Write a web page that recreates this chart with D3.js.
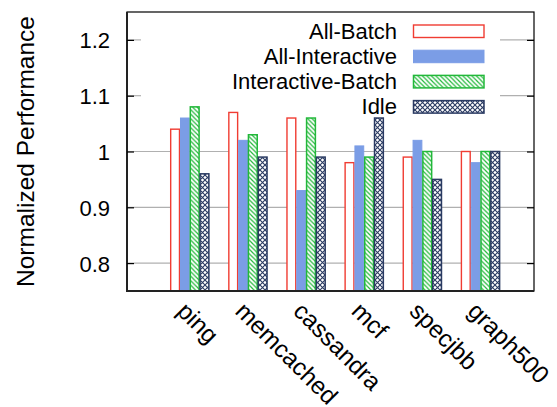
<!DOCTYPE html>
<html>
<head>
<meta charset="utf-8">
<script src="https://cdn.jsdelivr.net/npm/d3@7"></script>
<style>
  html, body { margin: 0; padding: 0; background: #fff; }
  svg { display: block; font-family: "Liberation Sans", Arial, Helvetica, sans-serif; }
</style>
</head>
<body>
<svg id="chart" width="557" height="407"></svg>
<script>
// ---- data ----
const categories = ["ping", "memcached", "cassandra", "mcf", "specjbb", "graph500"];
const seriesNames = ["All-Batch", "All-Interactive", "Interactive-Batch", "Idle"];
const allBatch        = [1.04, 1.07, 1.06, 0.98, 0.99, 1.00];
const allInteractive  = [1.06, 1.02, 0.93, 1.01, 1.02, 0.98];
const interactiveBatch= [1.08, 1.03, 1.06, 0.99, 1.00, 1.00];
const idle            = [0.96, 0.99, 0.99, 1.06, 0.95, 1.00];
const yTicks = [0.8, 0.9, 1.0, 1.1, 1.2];
const yTickLabels = ["0.8", "0.9", "1", "1.1", "1.2"];
const yLabel = "Normalized Performance";

const seriesValues = [allBatch, allInteractive, interactiveBatch, idle];

// ---- layout ----
const svg = d3.select("#chart");
const L = 127, R = 534, T = 12, B = 291;
const x = d3.scaleLinear().domain([-1.08, 5.92]).range([L, R]);
const y = d3.scaleLinear().domain([0.75, 1.25]).range([B, T]);
const barW = 0.1686; // in category units

const defs = svg.append("defs");
const green = "#22b83a", navy = "#2a3a62", red = "#f03c32", blue = "#7b9de6";

const pg = defs.append("pattern").attr("id", "pGreen")
  .attr("patternUnits", "userSpaceOnUse").attr("width", 4.5).attr("height", 4.5);
pg.append("rect").attr("width", 4.5).attr("height", 4.5).attr("fill", "#fff");
pg.append("path").attr("d", "M-1,-1 L5.5,5.5 M-1,3.5 L1,5.5 M3.5,-1 L5.5,1")
  .attr("stroke", green).attr("stroke-width", 1.2);

const pn = defs.append("pattern").attr("id", "pNavy")
  .attr("patternUnits", "userSpaceOnUse").attr("width", 5).attr("height", 5);
pn.append("rect").attr("width", 5).attr("height", 5).attr("fill", "#fff");
pn.append("path").attr("d", "M-1,-1 L6,6 M-1,6 L6,-1")
  .attr("stroke", navy).attr("stroke-width", 1.1);

const styles = [
  { fill: "#fff", stroke: red, sw: 1.4 },
  { fill: blue, stroke: blue, sw: 1 },
  { fill: "url(#pGreen)", stroke: green, sw: 1.5 },
  { fill: "url(#pNavy)", stroke: navy, sw: 1.5 }
];

// ---- gridlines ----
const gridG = svg.append("g");
yTicks.forEach(t => {
  const yy = y(t);
  if (t > 1.05) {
    gridG.append("line").attr("x1", L).attr("x2", 141).attr("y1", yy).attr("y2", yy)
      .attr("stroke", "#b0b0b0").attr("stroke-width", 1.2);
    gridG.append("line").attr("x1", 500).attr("x2", R).attr("y1", yy).attr("y2", yy)
      .attr("stroke", "#b0b0b0").attr("stroke-width", 1.2);
  } else {
    gridG.append("line").attr("x1", L).attr("x2", R).attr("y1", yy).attr("y2", yy)
      .attr("stroke", "#b0b0b0").attr("stroke-width", 1.2);
  }
});

// ---- bars ----
const barsG = svg.append("g");
seriesValues.forEach((vals, s) => {
  const st = styles[s];
  barsG.selectAll(null).data(vals).enter().append("rect")
    .attr("x", (d, i) => x(i - 2 * barW + s * barW) + 0.5)
    .attr("width", x(barW) - x(0) - 1)
    .attr("y", d => y(d))
    .attr("height", d => B - y(d))
    .attr("fill", st.fill)
    .attr("stroke", st.stroke)
    .attr("stroke-width", st.sw);
});

// ---- frame ----
svg.append("rect").attr("x", L).attr("y", T).attr("width", R - L).attr("height", B - T)
  .attr("fill", "none").attr("stroke", "#000").attr("stroke-width", 1.2);
svg.append("line").attr("x1", L).attr("x2", L).attr("y1", T).attr("y2", B + 1)
  .attr("stroke", "#222").attr("stroke-width", 2);
svg.append("line").attr("x1", L - 1).attr("x2", R).attr("y1", B).attr("y2", B)
  .attr("stroke", "#222").attr("stroke-width", 2);

// ---- y axis ticks ----
const yAxisL = d3.axisLeft(y).tickValues(yTicks).tickSize(-7)
  .tickFormat((d, i) => yTickLabels[i]).tickPadding(17);
const gyl = svg.append("g").attr("transform", `translate(${L},0)`).call(yAxisL);
gyl.select(".domain").remove();
gyl.selectAll(".tick line").attr("stroke", "#000").attr("stroke-width", 1.2);
gyl.selectAll(".tick text").attr("font-size", 22).attr("fill", "#000")
  .attr("font-family", "Liberation Sans, Arial, sans-serif").attr("dy", "0.36em");

const yAxisR = d3.axisRight(y).tickValues(yTicks).tickSize(-7).tickFormat("");
const gyr = svg.append("g").attr("transform", `translate(${R},0)`).call(yAxisR);
gyr.select(".domain").remove();
gyr.selectAll(".tick line").attr("stroke", "#000").attr("stroke-width", 1.2);

// ---- x labels ----
svg.append("g").selectAll("text").data(categories).enter().append("text")
  .attr("transform", (d, i) => `translate(${x(i) - 14},312.5) rotate(45)`)
  .attr("text-anchor", "start")
  .attr("font-size", 24.3)
  .attr("fill", "#000")
  .text(d => d);

// ---- y title ----
svg.append("text")
  .attr("transform", `translate(34,${(T + B) / 2}) rotate(-90)`)
  .attr("text-anchor", "middle")
  .attr("font-size", 24.5)
  .attr("fill", "#000")
  .text(yLabel);

// ---- legend ----
const lg = svg.append("g");
seriesNames.forEach((name, s) => {
  const cy = 31 + s * 25.2;
  const st = styles[s];
  lg.append("text").attr("x", 397).attr("y", cy + 7.8)
    .attr("text-anchor", "end").attr("font-size", 22).attr("fill", "#000").text(name);
  lg.append("rect").attr("x", 413.5).attr("y", cy - 6).attr("width", 70.5).attr("height", 12.5)
    .attr("fill", st.fill).attr("stroke", st.stroke).attr("stroke-width", st.sw);
});
</script>
</body>
</html>
